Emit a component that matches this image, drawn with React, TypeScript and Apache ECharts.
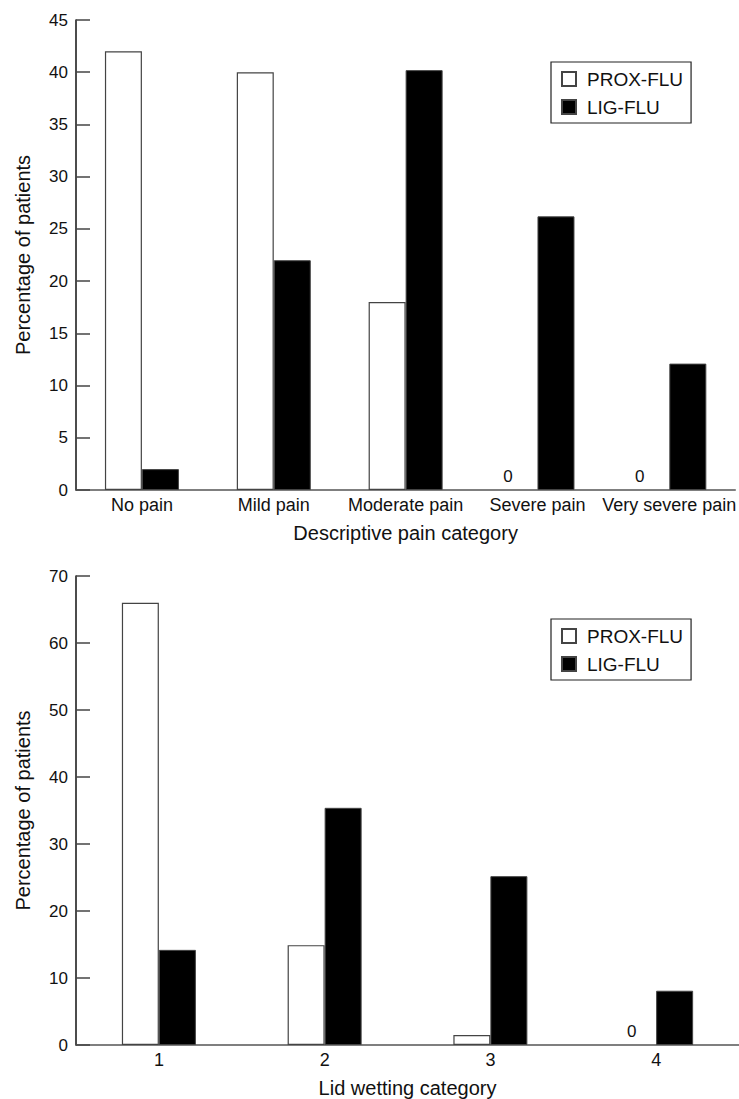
import React, { useEffect, useRef } from "react";
import * as echarts from "echarts";

const painCategories = ["No pain", "Mild pain", "Moderate pain", "Severe pain", "Very severe pain"];
const painProx = [42, 40, 18, 0, 0];
const painLig = [2, 22, 40.2, 26.2, 12.1];
const painTicks = { min: 0, max: 45, interval: 5 };

const wetCategories = ["1", "2", "3", "4"];
const wetProx = [66, 14.9, 1.5, 0];
const wetLig = [14.2, 35.4, 25.2, 8.1];
const wetTicks = { min: 0, max: 70, interval: 10 };

const seriesNames = ["PROX-FLU", "LIG-FLU"];

const FONT = '"Liberation Sans", Arial, Helvetica, sans-serif';

export default function App() {
  const ref = useRef<HTMLDivElement>(null);
  useEffect(() => {
    if (!ref.current) return;
    const chart = echarts.init(ref.current, null, { renderer: "svg" });

    const xAxisBase = (idx: number, cats: string[], name: string) => ({
      type: "category",
      gridIndex: idx,
      data: cats,
      name,
      nameLocation: "middle",
      nameGap: 33,
      nameTextStyle: { fontFamily: FONT, fontSize: 20, color: "#111" },
      axisLine: { lineStyle: { color: "#555", width: 1.5 } },
      axisTick: { inside: true, length: 13, lineStyle: { color: "#555", width: 1.5 } },
      axisLabel: { fontFamily: FONT, fontSize: 18, color: "#111", margin: 6, interval: 0 },
    });

    const yAxisBase = (idx: number, t: { min: number; max: number; interval: number }) => ({
      type: "value",
      gridIndex: idx,
      min: t.min,
      max: t.max,
      interval: t.interval,
      name: "Percentage of patients",
      nameLocation: "middle",
      nameGap: 43,
      nameTextStyle: { fontFamily: FONT, fontSize: 20, color: "#111" },
      axisLine: { show: true, lineStyle: { color: "#111", width: 1.5 } },
      axisTick: { show: true, inside: true, length: 14, lineStyle: { color: "#444", width: 1.5 } },
      axisLabel: { fontFamily: FONT, fontSize: 17, color: "#111", margin: 8 },
      splitLine: { show: false },
    });

    const proxData = (vals: number[]) =>
      vals.map((v) => ({ value: v, itemStyle: v === 0 ? { borderWidth: 0 } : {} }));

    const proxSeries = (idx: number, vals: number[], offX: number) => ({
      name: seriesNames[0],
      type: "bar",
      xAxisIndex: idx,
      yAxisIndex: idx,
      barWidth: 37,
      barGap: "0%",
      data: proxData(vals),
      itemStyle: { color: "#fff", borderColor: "#444", borderWidth: 1.2 },
      label: {
        show: true,
        position: "top",
        distance: 5,
        offset: [offX, 0],
        fontFamily: FONT,
        fontSize: 17,
        color: "#111",
        formatter: (p: any) => (p.value === 0 ? "0" : ""),
      },
    });

    const ligSeries = (idx: number, vals: number[]) => ({
      name: seriesNames[1],
      type: "bar",
      xAxisIndex: idx,
      yAxisIndex: idx,
      barWidth: 37,
      barGap: "0%",
      data: vals,
      itemStyle: { color: "#000", borderColor: "#444", borderWidth: 1 },
    });

    const legendBase = (top: number) => ({
      orient: "vertical",
      left: 551,
      top,
      data: seriesNames,
      icon: "rect",
      itemWidth: 14,
      itemHeight: 14,
      itemGap: 8,
      padding: [7, 8, 6, 10],
      borderColor: "#222",
      borderWidth: 1.2,
      backgroundColor: "#fff",
      textStyle: { fontFamily: FONT, fontSize: 19, color: "#111", lineHeight: 20, padding: [0, 0, 0, 6] },
      selectedMode: false,
    });

    chart.setOption({
      animation: false,
      backgroundColor: "#fff",
      grid: [
        { left: 76, top: 20, width: 663, height: 470 },
        { left: 76, top: 576, width: 663, height: 470 },
      ],
      xAxis: [
        xAxisBase(0, painCategories, "Descriptive pain category"),
        xAxisBase(1, wetCategories, "Lid wetting category"),
      ],
      yAxis: [yAxisBase(0, painTicks), yAxisBase(1, wetTicks)],
      legend: [legendBase(62), legendBase(619)],
      series: [
        proxSeries(0, painProx, -11),
        ligSeries(0, painLig),
        proxSeries(1, wetProx, -6),
        ligSeries(1, wetLig),
      ],
    });

    return () => chart.dispose();
  }, []);

  return (
    <div
      ref={ref}
      style={{ position: "absolute", left: 0, top: 0, width: 739, height: 1099, background: "#fff" }}
    />
  );
}
